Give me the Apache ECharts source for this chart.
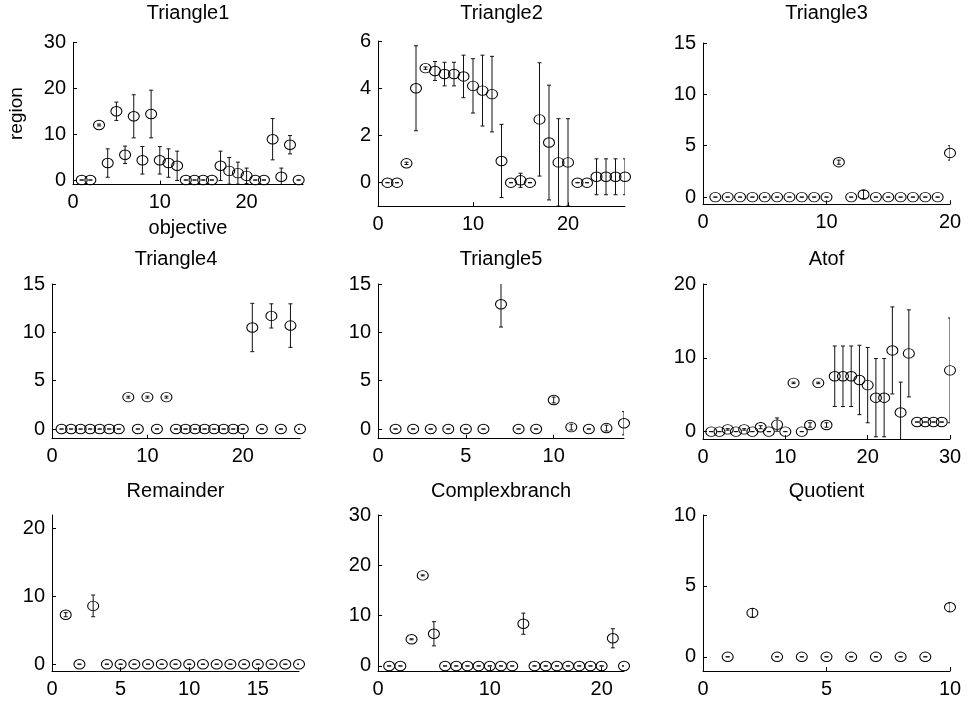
<!DOCTYPE html>
<html>
<head>
<meta charset="utf-8">
<script src="https://cdn.jsdelivr.net/npm/echarts@6/dist/echarts.min.js"></script>
<style>
html,body{margin:0;padding:0;background:#fff;}
#chart{width:969px;height:703px;}
</style>
</head>
<body>
<div id="chart"></div>
<script>
// ---- data (objective index = position + 1) ----
const titles = ['Triangle1','Triangle2','Triangle3','Triangle4','Triangle5','Atof','Remainder','Complexbranch','Quotient'];

const t1_y = [0,0,12.0,3.7,15.0,5.5,13.9,4.3,14.4,4.3,3.7,3.1,0,0,0,0,3.1,2.0,1.5,0.9,0,0,8.9,0.7,7.7,0];
const t1_e = [0,0,0.2,3.1,2.0,1.9,4.7,3.0,5.2,3.0,3.1,3.2,0,0,0,0,3.2,2.9,2.4,1.7,0,0,4.5,1.9,2.0,0];

const t2_y = [0,0,0.82,4.0,4.85,4.73,4.6,4.6,4.5,4.1,3.9,3.75,0.92,0,0.1,0,2.68,1.7,0.86,0.86,0,0,0.25,0.25,0.25,0.25];
const t2_e = [0,0,0.05,1.8,0.05,0.4,0.5,0.5,0.9,1.15,1.5,1.6,1.55,0,0.3,0,2.4,2.43,1.85,1.85,0,0,0.76,0.76,0.76,0.76];

const t3_y = [0,0,0,0,0,0,0,0,0,0,3.4,0,0.25,0,0,0,0,0,0,4.3];
const t3_e = [0,0,0,0,0,0,0,0,0,0,0.2,0,0.4,0,0,0,0,0,0,0.7];

const t4_y = [0,0,0,0,0,0,0,3.3,0,3.3,0,3.3,0,0,0,0,0,0,0,0,10.5,0,11.7,0,10.7,0];
const t4_e = [0,0,0,0,0,0,0,0.1,0,0.1,0,0.1,0,0,0,0,0,0,0,0,2.5,0,1.25,0,2.25,0];

const t5_y = [0,0,0,0,0,0,12.9,0,0,3.0,0.2,0,0.1,0.6];
const t5_e = [0,0,0,0,0,0,2.35,0,0,0.3,0.3,0,0.3,1.2];

const atof_y = [0,0,0.3,0,0.3,0,0.6,0,0.95,0,6.6,0,0.9,6.6,0.9,7.5,7.5,7.5,7.0,6.3,4.6,4.6,11.0,2.6,10.6,1.3,1.3,1.3,1.3,8.3];
const atof_e = [0,0,0.1,0,0.1,0,0.2,0,0.9,0,0.1,0,0.3,0.1,0.3,4.1,4.1,4.1,4.7,5.1,5.3,5.3,5.9,4.1,5.9,0,0,0,0,7.1];

const rem_y = [7.3,0,8.6,0,0,0,0,0,0,0,0,0,0,0,0,0,0,0];
const rem_e = [0.3,0,1.6,0,0,0,0,0,0,0,0,0,0,0,0,0,0,0];

const cb_y = [0,0,5.3,18.0,6.4,0,0,0,0,0,0,0,8.4,0,0,0,0,0,0,0,5.5,0];
const cb_e = [0,0,0.1,0.1,2.4,0,0,0,0,0,0,0,2.1,0,0,0,0,0,0,0,1.9,0];

const q_y = [0,3.1,0,0,0,0,0,0,0,3.5];
const q_e = [0,0.3,0,0,0,0,0,0,0,0.3];

const values = [t1_y,t2_y,t3_y,t4_y,t5_y,atof_y,rem_y,cb_y,q_y];
const errors = [t1_e,t2_e,t3_e,t4_e,t5_e,atof_e,rem_e,cb_e,q_e];

// tick labels
const xTicks = [[0,10,20],[0,10,20],[0,10,20],[0,10,20],[0,5,10],[0,10,20,30],[0,5,10,15],[0,10,20],[0,5,10]];
const yTicks = [[0,10,20,30],[0,2,4,6],[0,5,10,15],[0,5,10,15],[0,5,10,15],[0,10,20],[0,10,20],[0,10,20,30],[0,5,10]];

// ---- axis limits and layout ----
const xLim = [[0,26.5],[0,26],[0,20],[0,26],[0,14],[0,30],[0,18],[0,22],[0,10]];
const yLim = [[-1,30],[-1,6],[-0.7,15],[-1,15],[-1,15],[-1,20],[-1,22],[-1,30],[-1,10]];
// [left, right, top, bottom] in pixels
const boxes = [
  [73,303,42.5,184.6],[378,625,41,206.3],[703,950,43,204.3],
  [52,300,284,438.7],[378,624,284,438.7],[703,950,284,439],
  [52,299,515,671],[378,624,515,671],[703,950,515,671]
];
const titleTop = [3,3,3,249,249,249,481,481,481];

const FONT = "'Liberation Sans', Arial, Helvetica, sans-serif";
const grids = [], xAxes = [], yAxes = [], series = [], titleList = [];

boxes.forEach((b, i) => {
  grids.push({left:b[0], top:b[2], width:b[1]-b[0], height:b[3]-b[2], containLabel:false});
  titleList.push({
    text: titles[i], left:(b[0]+b[1])/2, top:titleTop[i], textAlign:'center', padding:0,
    textStyle:{fontFamily:FONT, fontSize:20, fontWeight:'normal', color:'#000'}
  });
  const axisCommon = {
    axisLine:{show:true, onZero:false, lineStyle:{color:'#000', width:1}},
    splitLine:{show:false},
  };
  xAxes.push(Object.assign({
    type:'value', gridIndex:i, min:xLim[i][0], max:xLim[i][1],
    axisTick:{show:true, inside:true, length:4, lineStyle:{color:'#000'}, customValues:xTicks[i]},
    axisLabel:{fontFamily:FONT, fontSize:20, color:'#000', margin:8, customValues:xTicks[i]},
  }, axisCommon, i===0 ? {name:'objective', nameLocation:'middle', nameGap:34,
      nameTextStyle:{fontFamily:FONT, fontSize:20, color:'#000'}} : {}));
  yAxes.push(Object.assign({
    type:'value', gridIndex:i, min:yLim[i][0], max:yLim[i][1],
    axisTick:{show:true, inside:true, length:4, lineStyle:{color:'#000'}, customValues:yTicks[i]},
    axisLabel:{fontFamily:FONT, fontSize:20, color:'#000', margin:7, customValues:yTicks[i]},
  }, axisCommon, i===0 ? {name:'region', nameLocation:'middle', nameGap:47, nameRotate:90,
      nameTextStyle:{fontFamily:FONT, fontSize:19, color:'#000'}} : {}));

  const vals = values[i], errs = errors[i];
  series.push({
    type:'custom', xAxisIndex:i, yAxisIndex:i, clip:true, silent:true, animation:false,
    data: vals.map((v, j) => [j + 1, v, errs[j]]),
    encode:{x:0, y:1},
    renderItem: function (params, api) {
      const x = api.value(0), y = api.value(1), e = api.value(2);
      const top = api.coord([x, y + e]);
      const bot = api.coord([x, y - e]);
      const cw = 2;
      const st = {stroke:'#111', lineWidth:1};
      return {type:'group', children:[
        {type:'line', shape:{x1:top[0], y1:top[1], x2:bot[0], y2:bot[1]}, style:st},
        {type:'line', shape:{x1:top[0]-cw, y1:top[1], x2:top[0]+cw, y2:top[1]}, style:st},
        {type:'line', shape:{x1:bot[0]-cw, y1:bot[1], x2:bot[0]+cw, y2:bot[1]}, style:st}
      ]};
    }
  });
  series.push({
    type:'scatter', xAxisIndex:i, yAxisIndex:i, silent:true, animation:false,
    data: vals.map((v, j) => [j + 1, v]),
    symbol:'circle', symbolSize:[11,9.5],
    itemStyle:{color:'rgba(0,0,0,0)', borderColor:'#000', borderWidth:1, opacity:1}
  });
});

const chart = echarts.init(document.getElementById('chart'), null, {renderer:'canvas'});
chart.setOption({
  backgroundColor:'#fff',
  animation:false,
  title:titleList,
  grid:grids,
  xAxis:xAxes,
  yAxis:yAxes,
  series:series
});
</script>
</body>
</html>
